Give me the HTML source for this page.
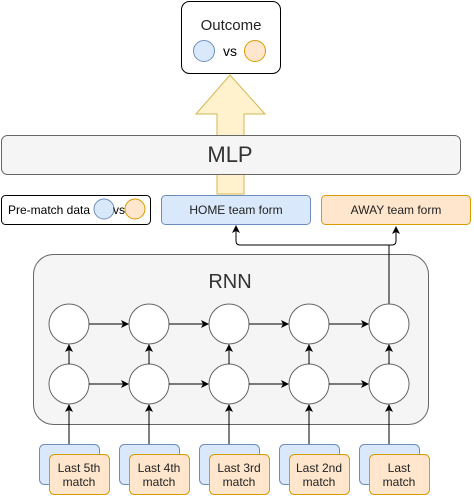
<!DOCTYPE html>
<html><head><style>body{margin:0;background:#fff}</style></head><body>
<svg width="474" height="499" xmlns="http://www.w3.org/2000/svg" font-family="Liberation Sans, sans-serif">
<defs><marker id="a" markerWidth="8" markerHeight="8" refX="7" refY="4" orient="auto" markerUnits="userSpaceOnUse"><path d="M0,0 L8,4 L0,8 L2,4 z" fill="#000"/></marker></defs>
<!-- big arrow -->
<path d="M217,194 L217,114 L196,114 L230,75 L265,114 L244,114 L244,194 Z" fill="#fff2cc" stroke="#d6b656"/>
<!-- outcome -->
<rect x="181.5" y="1.5" width="99" height="72" rx="8" fill="#fff" stroke="#000"/>
<text x="231" y="30" font-size="15" text-anchor="middle" fill="#222">Outcome</text>
<circle cx="204" cy="51" r="10.5" fill="#dae8fc" stroke="#6c8ebf"/>
<circle cx="255" cy="51" r="10.5" fill="#ffe6cc" stroke="#d79b00"/>
<text x="230" y="56" font-size="14" text-anchor="middle">vs</text>
<!-- MLP -->
<rect x="1.5" y="135.5" width="459" height="39" rx="6" fill="#f5f5f5" stroke="#666"/>
<text x="230" y="162" font-size="22" text-anchor="middle" fill="#333">MLP</text>
<!-- row -->
<rect x="1.5" y="195.5" width="149" height="29" rx="4" fill="#fff" stroke="#000"/>
<text x="8" y="214" font-size="12">Pre-match data</text>
<circle cx="104" cy="209" r="10" fill="#dae8fc" stroke="#6c8ebf"/>
<circle cx="135" cy="209" r="10" fill="#ffe6cc" stroke="#d79b00"/>
<text x="113" y="214" font-size="12">vs</text>
<rect x="161.5" y="195.5" width="149" height="29" rx="4" fill="#dae8fc" stroke="#6c8ebf"/>
<text x="236" y="214" font-size="12" text-anchor="middle" fill="#222">HOME team form</text>
<rect x="321.5" y="195.5" width="149" height="29" rx="4" fill="#ffe6cc" stroke="#d79b00"/>
<text x="396" y="214" font-size="12" text-anchor="middle" fill="#222">AWAY team form</text>
<!-- RNN -->
<rect x="33.5" y="254.5" width="395" height="170" rx="20" fill="#f5f5f5" stroke="#666"/>
<text x="230" y="288" font-size="20" text-anchor="middle" fill="#333">RNN</text>
<path d="M389,304 L389,245 M389,245 L240,245 Q236,245 236,241 L236,227 M389,245 L392,245 Q396,245 396,241 L396,227" fill="none" stroke="#000" marker-end="url(#a)"/>
<path d="M236,241 L236,226" stroke="#000" marker-end="url(#a)"/>
<g fill="#fff" stroke="#666">
<circle cx="69" cy="324" r="20"/><circle cx="149" cy="324" r="20"/><circle cx="229" cy="324" r="20"/><circle cx="309" cy="324" r="20"/><circle cx="389" cy="324" r="20"/>
<circle cx="69" cy="384" r="20"/><circle cx="149" cy="384" r="20"/><circle cx="229" cy="384" r="20"/><circle cx="309" cy="384" r="20"/><circle cx="389" cy="384" r="20"/>
</g>
<g stroke="#000" marker-end="url(#a)">
<line x1="89" y1="324" x2="128" y2="324"/><line x1="169" y1="324" x2="208" y2="324"/><line x1="249" y1="324" x2="288" y2="324"/><line x1="329" y1="324" x2="368" y2="324"/>
<line x1="89" y1="384" x2="128" y2="384"/><line x1="169" y1="384" x2="208" y2="384"/><line x1="249" y1="384" x2="288" y2="384"/><line x1="329" y1="384" x2="368" y2="384"/>
<line x1="69" y1="364" x2="69" y2="345"/><line x1="149" y1="364" x2="149" y2="345"/><line x1="229" y1="364" x2="229" y2="345"/><line x1="309" y1="364" x2="309" y2="345"/><line x1="389" y1="364" x2="389" y2="345"/>
<line x1="69" y1="444" x2="69" y2="405"/><line x1="149" y1="444" x2="149" y2="405"/><line x1="229" y1="444" x2="229" y2="405"/><line x1="309" y1="444" x2="309" y2="405"/><line x1="389" y1="444" x2="389" y2="405"/>
</g>
<g font-size="12" text-anchor="middle" fill="#222">
<rect x="39.5" y="444.5" width="60" height="40" rx="5" fill="#dae8fc" stroke="#6c8ebf"/><rect x="49.5" y="454.5" width="60" height="40" rx="5" fill="#ffe6cc" stroke="#d79b00"/>
<text x="79" y="472">Last 5th</text><text x="79" y="486">match</text>
<rect x="119.5" y="444.5" width="60" height="40" rx="5" fill="#dae8fc" stroke="#6c8ebf"/><rect x="129.5" y="454.5" width="60" height="40" rx="5" fill="#ffe6cc" stroke="#d79b00"/>
<text x="159" y="472">Last 4th</text><text x="159" y="486">match</text>
<rect x="199.5" y="444.5" width="60" height="40" rx="5" fill="#dae8fc" stroke="#6c8ebf"/><rect x="209.5" y="454.5" width="60" height="40" rx="5" fill="#ffe6cc" stroke="#d79b00"/>
<text x="239" y="472">Last 3rd</text><text x="239" y="486">match</text>
<rect x="279.5" y="444.5" width="60" height="40" rx="5" fill="#dae8fc" stroke="#6c8ebf"/><rect x="289.5" y="454.5" width="60" height="40" rx="5" fill="#ffe6cc" stroke="#d79b00"/>
<text x="319" y="472">Last 2nd</text><text x="319" y="486">match</text>
<rect x="359.5" y="444.5" width="60" height="40" rx="5" fill="#dae8fc" stroke="#6c8ebf"/><rect x="369.5" y="454.5" width="60" height="40" rx="5" fill="#ffe6cc" stroke="#d79b00"/>
<text x="399" y="472">Last</text><text x="399" y="486">match</text>
</g>
</svg>
</body></html>
